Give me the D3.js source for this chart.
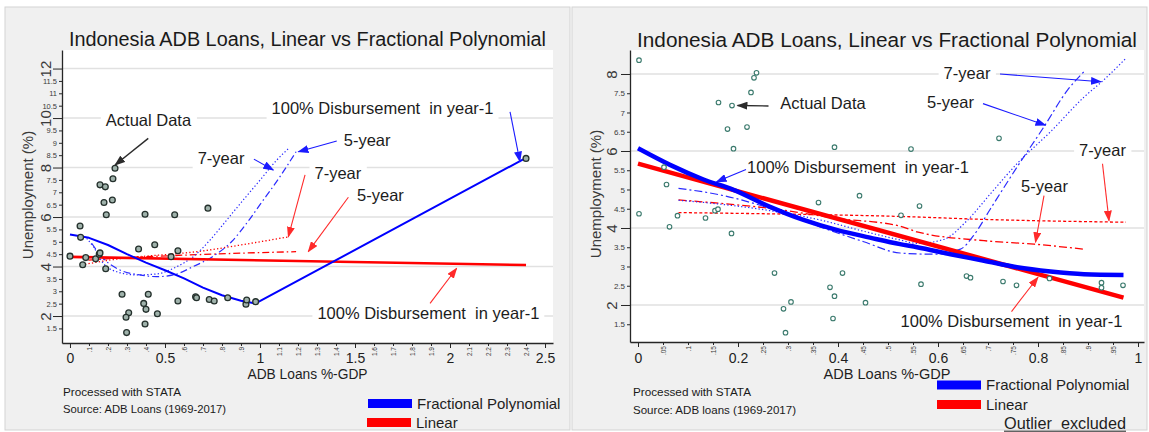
<!DOCTYPE html>
<html>
<head>
<meta charset="utf-8">
<script src="https://cdn.jsdelivr.net/npm/d3@7"></script>
<style>
  body { margin: 0; background: #fff; }
  svg { display: block; font-family: "Liberation Sans", Arial, sans-serif; }
</style>
</head>
<body>
<svg id="chart" width="1149" height="432"></svg>
<script>
// ---------- observations: ADB loans (% of GDP) vs unemployment (%) ----------
const leftLoans = [0, 0.053, 0.056, 0.067, 0.083, 0.135, 0.154, 0.158, 0.158, 0.186, 0.179, 0.191, 0.188,
  0.223, 0.226, 0.237, 0.274, 0.309, 0.295, 0.298, 0.361, 0.388, 0.4, 0.395, 0.412, 0.395, 0.446, 0.46,
  0.532, 0.551, 0.568, 0.568, 0.661, 0.666, 0.726, 0.733, 0.759, 0.83, 0.926, 0.93, 0.977, 2.40];
const leftUnemp = [4.42, 5.64, 5.18, 4.07, 4.36, 4.31, 4.5, 4.55, 7.30, 7.22, 6.59, 6.09, 3.91,
  6.69, 7.55, 7.97, 2.88, 2.13, 1.95, 1.33, 4.71, 2.51, 2.27, 6.11, 2.88, 1.68, 4.88, 2.09,
  4.40, 6.09, 4.64, 2.61, 2.78, 2.74, 6.36, 2.67, 2.61, 2.74, 2.48, 2.65, 2.58, 8.37];

const rightLoans = [0.002, 0.002, 0.052, 0.057, 0.063, 0.079, 0.135, 0.154, 0.16, 0.161, 0.188, 0.179, 0.191,
  0.187, 0.218, 0.226, 0.232, 0.237, 0.273, 0.306, 0.291, 0.295, 0.361, 0.384, 0.393, 0.393, 0.409, 0.39,
  0.443, 0.455, 0.526, 0.546, 0.563, 0.566, 0.657, 0.665, 0.722, 0.73, 0.757, 0.823, 0.927, 0.927, 0.97];
const rightUnemp = [8.36, 4.37, 5.58, 5.13, 4.03, 4.32, 4.26, 4.45, 4.49, 7.26, 7.18, 6.57, 6.06,
  3.86, 6.62, 7.52, 7.90, 8.03, 2.83, 2.08, 1.90, 1.28, 4.66, 2.46, 2.23, 6.10, 2.83, 1.65,
  4.84, 2.06, 4.33, 6.05, 4.57, 2.54, 2.75, 2.71, 6.33, 2.61, 2.51, 2.69, 2.58, 2.45, 2.51];

// ---------- fitted values, full sample ----------
const leftFracX  = [0, 0.1, 0.2, 0.3, 0.4, 0.5, 0.6, 0.7, 0.8, 0.9, 0.977, 2.39];
const leftFracY  = [5.29, 5.16, 4.87, 4.5, 4.16, 3.85, 3.52, 3.15, 2.84, 2.62, 2.51, 8.35];
const leftLinX   = [0, 2.4];
const leftLinY   = [4.39, 4.06];
const leftFrac7X = [0.088, 0.123, 0.175, 0.246, 0.351, 0.456, 0.561, 0.649, 0.737, 0.825, 0.912, 1.0, 1.088, 1.155];
const leftFrac7Y = [5.14, 4.80, 4.13, 3.79, 3.66, 3.70, 3.99, 4.40, 5.07, 5.88, 6.69, 7.49, 8.30, 8.80];
const leftFrac5X = [0.114, 0.175, 0.263, 0.368, 0.456, 0.544, 0.649, 0.75, 0.85, 0.93, 1.0, 1.105, 1.19];
const leftFrac5Y = [4.94, 4.33, 3.86, 3.66, 3.59, 3.66, 4.0, 4.4, 5.0, 5.75, 6.5, 7.63, 8.64];
const leftLin7X  = [0.061, 0.175, 0.298, 0.45, 0.579, 0.7, 0.842, 1.0, 1.15];
const leftLin7Y  = [4.06, 4.22, 4.35, 4.45, 4.53, 4.63, 4.8, 5.0, 5.2];
const leftLin5X  = [0.097, 0.3, 0.6, 0.9, 1.19];
const leftLin5Y  = [4.26, 4.36, 4.46, 4.54, 4.6];

// ---------- fitted values, outlier excluded ----------
const rightFracX  = [0, 0.064, 0.131, 0.191, 0.264, 0.331, 0.397, 0.464, 0.524, 0.558, 0.625, 0.692, 0.758, 0.825, 0.892, 0.971];
const rightFracY  = [6.07, 5.64, 5.26, 4.99, 4.55, 4.21, 3.95, 3.75, 3.58, 3.50, 3.32, 3.15, 2.98, 2.87, 2.80, 2.78];
const rightLinX   = [0, 0.971];
const rightLinY   = [5.67, 2.19];
const rightFrac7X = [0.081, 0.164, 0.264, 0.364, 0.45, 0.524, 0.558, 0.611, 0.658, 0.705, 0.758, 0.825, 0.892, 0.932, 0.976];
const rightFrac7Y = [4.72, 4.62, 4.45, 4.21, 3.92, 3.69, 3.6, 3.7, 4.19, 4.89, 5.67, 6.5, 7.4, 7.85, 8.41];
const rightFrac5X = [0.081, 0.164, 0.264, 0.364, 0.45, 0.524, 0.591, 0.645, 0.671, 0.705, 0.758, 0.812, 0.859, 0.892];
const rightFrac5Y = [5.03, 4.86, 4.51, 4.03, 3.65, 3.35, 3.32, 3.45, 3.80, 4.5, 5.58, 6.63, 7.58, 8.06];
const rightLin7X  = [0.081, 0.3, 0.524, 0.7, 0.976];
const rightLin7Y  = [4.40, 4.36, 4.30, 4.22, 4.15];
const rightLin5X  = [0.081, 0.164, 0.264, 0.397, 0.524, 0.558, 0.692, 0.792, 0.892];
const rightLin5Y  = [4.73, 4.64, 4.51, 4.25, 4.05, 3.9, 3.67, 3.58, 3.45];

// ---------- ticks and labels ----------
const leftXMajor = [0, 0.5, 1, 1.5, 2, 2.5];
const leftXMajorLabels = ["0", "0.5", "1", "1.5", "2", "2.5"];
const leftXMinor = [0.1, 0.2, 0.3, 0.4, 0.6, 0.7, 0.8, 0.9, 1.1, 1.2, 1.3, 1.4, 1.6, 1.7, 1.8, 1.9, 2.1, 2.2, 2.3, 2.4];
const leftXMinorLabels = [".1", ".2", ".3", ".4", ".6", ".7", ".8", ".9", "1.1", "1.2", "1.3", "1.4", "1.6", "1.7", "1.8", "1.9", "2.1", "2.2", "2.3", "2.4"];
const leftYMajor = [2, 4, 6, 8, 10, 12];
const leftYMajorLabels = ["2", "4", "6", "8", "10", "12"];
const leftYMinor = [1.5, 2.5, 3, 3.5, 4.5, 5, 5.5, 6.5, 7, 7.5, 8.5, 9, 9.5, 10.5, 11, 11.5];
const leftYMinorLabels = ["1.5", "2.5", "3", "3.5", "4.5", "5", "5.5", "6.5", "7", "7.5", "8.5", "9", "9.5", "10.5", "11", "11.5"];

const rightXMajor = [0, 0.2, 0.4, 0.6, 0.8, 1];
const rightXMajorLabels = ["0", "0.2", "0.4", "0.6", "0.8", "1"];
const rightXMinor = [0.05, 0.1, 0.15, 0.25, 0.3, 0.35, 0.45, 0.5, 0.55, 0.65, 0.7, 0.75, 0.85, 0.9, 0.95];
const rightXMinorLabels = [".05", ".1", ".15", ".25", ".3", ".35", ".45", ".5", ".55", ".65", ".7", ".75", ".85", ".9", ".95"];
const rightYMajor = [2, 4, 6, 8];
const rightYMajorLabels = ["2", "4", "6", "8"];
const rightYMinor = [1.5, 2.5, 3, 3.5, 4.5, 5, 5.5, 6.5, 7, 7.5];
const rightYMinorLabels = ["1.5", "2.5", "3", "3.5", "4.5", "5", "5.5", "6.5", "7", "7.5"];

const titleText = "Indonesia ADB Loans, Linear vs Fractional Polynomial";
const disbText = "100% Disbursement  in year-1";

// ---------- drawing ----------
const BLUE = "#0000ff", RED = "#ff0000";
const svg = d3.select("#chart");
const defs = svg.append("defs");
[["blue", "#1a1aff"], ["red", "#ff2a2a"], ["dark", "#2b2b2b"]].forEach(([id, c]) => {
  defs.append("marker").attr("id", "head-" + id)
    .attr("markerUnits", "userSpaceOnUse").attr("viewBox", "0 0 11 8")
    .attr("markerWidth", 11).attr("markerHeight", 8).attr("refX", 10).attr("refY", 4)
    .attr("orient", "auto")
    .append("path").attr("d", "M0,0 L11,4 L0,8 Z").attr("fill", c);
});
const arrowColor = { blue: "#1a1aff", red: "#ff2a2a", dark: "#2b2b2b" };

const zip = (xs, ys) => xs.map((v, i) => [v, ys[i]]);

function drawPanel(p) {
  const g = svg.append("g");
  g.append("rect").attr("x", p.box[0]).attr("y", p.box[1]).attr("width", p.box[2]).attr("height", p.box[3])
    .attr("fill", "#f0f0f0").attr("stroke", "#d3d3d3");

  const x = d3.scaleLinear().domain(p.xDomain).range([p.plot.l, p.plot.r]);
  const y = d3.scaleLinear().domain(p.yDomain).range([p.plot.b, p.plot.t]);

  g.append("rect").attr("x", p.plot.l).attr("y", p.plot.t)
    .attr("width", p.plot.r - p.plot.l).attr("height", p.plot.b - p.plot.t).attr("fill", "#fff");

  // horizontal grid at major ticks
  g.append("g").selectAll("line").data(p.yMajor).join("line")
    .attr("x1", p.plot.l).attr("x2", p.plot.r)
    .attr("y1", d => y(d)).attr("y2", d => y(d))
    .attr("stroke", "#e1e1e1").attr("stroke-width", 1.6);

  const boxLayer = g.append("g");

  // title
  g.append("text").attr("x", p.title.x).attr("y", p.title.y).attr("text-anchor", "middle")
    .attr("font-size", p.title.size).attr("fill", "#1a1a1a")
    .attr("textLength", p.title.len).attr("lengthAdjust", "spacingAndGlyphs")
    .text(titleText);

  // fitted lines
  p.curves.forEach(c => {
    const line = d3.line().x(d => x(d[0])).y(d => y(d[1]))
      .curve(c.straight ? d3.curveLinear : d3.curveMonotoneX);
    g.append("path").datum(zip(c.xs, c.ys)).attr("d", line)
      .attr("fill", "none").attr("stroke", c.color).attr("stroke-width", c.width)
      .attr("stroke-dasharray", c.dash || null).attr("stroke-linejoin", "round");
  });

  // observations
  g.append("g").selectAll("circle").data(zip(p.loans, p.unemp)).join("circle")
    .attr("cx", d => x(d[0])).attr("cy", d => y(d[1])).attr("r", p.marker.r)
    .attr("fill", p.marker.fill).attr("stroke", p.marker.stroke).attr("stroke-width", p.marker.sw);

  // annotations with arrows
  p.notes.forEach(n => {
    const t = g.append("text").attr("x", x(n.tx)).attr("y", y(n.ty)).attr("dy", "0.36em")
      .attr("text-anchor", "middle").attr("font-size", p.noteSize).attr("fill", "#1c1c1c")
      .style("white-space", "pre").text(n.text);
    const bb = t.node().getBBox();
    boxLayer.append("rect").attr("x", bb.x - 5).attr("y", bb.y - 1)
      .attr("width", bb.width + 10).attr("height", bb.height + 3).attr("fill", "#fff");
    g.append("line")
      .attr("x1", x(n.from[0])).attr("y1", y(n.from[1]))
      .attr("x2", x(n.to[0])).attr("y2", y(n.to[1]))
      .attr("stroke", arrowColor[n.arrow]).attr("stroke-width", n.arrow === "dark" ? 1.4 : 1.1)
      .attr("marker-end", `url(#head-${n.arrow})`);
  });

  const axisColor = "#262626";
  // y axis: major ticks with rotated labels
  const yMaj = g.append("g").attr("transform", `translate(${p.plot.l},0)`)
    .call(d3.axisLeft(y).tickValues(p.yMajor).tickSize(9).tickSizeOuter(0)
      .tickFormat((d, i) => p.yMajorLabels[i]));
  yMaj.select(".domain").attr("stroke", axisColor).attr("stroke-width", 1.3);
  yMaj.selectAll(".tick line").attr("stroke", axisColor);
  yMaj.selectAll(".tick text").attr("transform", "rotate(-90)").attr("x", 0).attr("y", -p.yMajorOffset)
    .attr("dy", 0).attr("text-anchor", "middle").attr("font-size", 15).attr("fill", "#3a3a3a")
    .attr("font-family", "Liberation Sans, Arial, sans-serif");

  // y axis: minor ticks
  const yMin = g.append("g").attr("transform", `translate(${p.plot.l},0)`)
    .call(d3.axisLeft(y).tickValues(p.yMinor).tickSize(3).tickPadding(2)
      .tickFormat((d, i) => p.yMinorLabels[i]));
  yMin.select(".domain").remove();
  yMin.selectAll(".tick line").attr("stroke", axisColor);
  yMin.selectAll(".tick text").attr("font-size", p.yMinorSize).attr("fill", "#3a3a3a")
    .attr("font-family", "Liberation Sans, Arial, sans-serif");

  // x axis: major ticks
  const xMaj = g.append("g").attr("transform", `translate(0,${p.plot.b})`)
    .call(d3.axisBottom(x).tickValues(p.xMajor).tickSize(5).tickSizeOuter(0)
      .tickFormat((d, i) => p.xMajorLabels[i]));
  xMaj.select(".domain").attr("stroke", axisColor).attr("stroke-width", 1.3);
  xMaj.selectAll(".tick line").attr("stroke", axisColor);
  xMaj.selectAll(".tick text").attr("y", p.xMajorBase).attr("dy", 0).attr("font-size", 14)
    .attr("fill", "#1e1e1e").attr("font-family", "Liberation Sans, Arial, sans-serif");

  // x axis: minor ticks with vertical labels
  const xMin = g.append("g").attr("transform", `translate(0,${p.plot.b})`)
    .call(d3.axisBottom(x).tickValues(p.xMinor).tickSize(3)
      .tickFormat((d, i) => p.xMinorLabels[i]));
  xMin.select(".domain").remove();
  xMin.selectAll(".tick line").attr("stroke", axisColor);
  xMin.selectAll(".tick text").attr("transform", "rotate(-90)").attr("x", -4).attr("y", 2.4)
    .attr("dy", 0).attr("text-anchor", "end").attr("font-size", 6.5).attr("fill", "#3a3a3a")
    .attr("font-family", "Liberation Sans, Arial, sans-serif");

  // axis titles
  g.append("text").attr("x", (p.plot.l + p.plot.r) / 2).attr("y", 379).attr("text-anchor", "middle")
    .attr("font-size", 14).attr("fill", "#1e1e1e")
    .attr("textLength", p.xTitleLen).attr("lengthAdjust", "spacingAndGlyphs").text("ADB Loans %-GDP");
  g.append("text").attr("transform", `translate(${p.yTitle[0]},${p.yTitle[1]}) rotate(-90)`)
    .attr("text-anchor", "middle").attr("font-size", 15).attr("fill", "#3a3a3a")
    .text("Unemployment (%)");

  // notes under the plot
  g.append("text").attr("x", p.notesX).attr("y", p.noteY[0]).attr("font-size", 11.5).attr("fill", "#1a1a1a")
    .attr("textLength", 118).attr("lengthAdjust", "spacingAndGlyphs").text("Processed with STATA");
  g.append("text").attr("x", p.notesX).attr("y", p.noteY[1]).attr("font-size", 11.5).attr("fill", "#1a1a1a")
    .attr("textLength", 163).attr("lengthAdjust", "spacingAndGlyphs").text(p.source);

  // legend
  p.legend.forEach(l => {
    g.append("rect").attr("x", l.x).attr("y", l.y).attr("width", 44).attr("height", 9).attr("fill", l.color);
    g.append("text").attr("x", l.x + 49).attr("y", l.y + 9.5).attr("font-size", 15).attr("fill", "#1e1e1e").text(l.label);
  });
}

drawPanel({
  box: [5, 7, 565, 423],
  plot: { l: 62, r: 553, t: 50, b: 343 },
  xDomain: [-0.042, 2.542], yDomain: [0.91, 12.75],
  title: { x: 307.5, y: 46, size: 20, len: 477 },
  loans: leftLoans, unemp: leftUnemp,
  marker: { r: 2.9, fill: "#9fb2ab", stroke: "#24302c", sw: 1.3 },
  curves: [
    { xs: leftLin7X, ys: leftLin7Y, color: RED, width: 1.3, dash: "1.3,2.2" },
    { xs: leftLin5X, ys: leftLin5Y, color: RED, width: 1.3, dash: "7,3,1.5,3" },
    { xs: leftFrac7X, ys: leftFrac7Y, color: "#2a2aff", width: 1.2, dash: "1.3,2.2" },
    { xs: leftFrac5X, ys: leftFrac5Y, color: "#2a2aff", width: 1.2, dash: "7,3,1.5,3" },
    { xs: leftLinX, ys: leftLinY, color: RED, width: 2.6, straight: true },
    { xs: leftFracX, ys: leftFracY, color: BLUE, width: 2, straight: true }
  ],
  noteSize: 16.5,
  notes: [
    { text: "Actual Data", tx: 0.413, ty: 9.92, from: [0.412, 9.18], to: [0.237, 8.10], arrow: "dark" },
    { text: disbText, tx: 1.645, ty: 10.40, from: [2.316, 10.25], to: [2.368, 8.24], arrow: "blue" },
    { text: "5-year", tx: 1.564, ty: 9.11, from: [1.404, 9.07], to: [1.202, 8.64], arrow: "blue" },
    { text: "7-year", tx: 0.795, ty: 8.37, from: [0.968, 8.34], to: [1.07, 7.90], arrow: "blue" },
    { text: "7-year", tx: 1.41, ty: 7.79, from: [1.237, 7.70], to: [1.149, 5.20], arrow: "red" },
    { text: "5-year", tx: 1.634, ty: 6.89, from: [1.465, 6.80], to: [1.254, 4.60], arrow: "red" },
    { text: disbText, tx: 1.886, ty: 2.11, from: [1.895, 2.51], to: [2.035, 3.93], arrow: "red" }
  ],
  yMajor: leftYMajor, yMajorLabels: leftYMajorLabels, yMajorOffset: 11,
  yMinor: leftYMinor, yMinorLabels: leftYMinorLabels, yMinorSize: 7.5,
  xMajor: leftXMajor, xMajorLabels: leftXMajorLabels, xMajorBase: 20,
  xMinor: leftXMinor, xMinorLabels: leftXMinorLabels,
  xTitleLen: 120, yTitle: [33, 195],
  notesX: 63, noteY: [395.5, 412.5], source: "Source: ADB Loans (1969-2017)",
  legend: [
    { x: 368, y: 399, color: BLUE, label: "Fractional Polynomial" },
    { x: 367, y: 418, color: RED, label: "Linear" }
  ]
});

drawPanel({
  box: [572, 7, 575, 423],
  plot: { l: 630, r: 1144, t: 50, b: 342 },
  xDomain: [-0.016, 1.012], yDomain: [1.039, 8.623],
  title: { x: 887, y: 47, size: 20.5, len: 500 },
  loans: rightLoans, unemp: rightUnemp,
  marker: { r: 2.3, fill: "#ffffff", stroke: "#3b7a6d", sw: 1.1 },
  curves: [
    { xs: rightLin7X, ys: rightLin7Y, color: RED, width: 1.3, dash: "3,2.2" },
    { xs: rightLin5X, ys: rightLin5Y, color: RED, width: 1.3, dash: "8,3,2,3" },
    { xs: rightFrac7X, ys: rightFrac7Y, color: "#2a2aff", width: 1.2, dash: "1.3,2.2" },
    { xs: rightFrac5X, ys: rightFrac5Y, color: "#2a2aff", width: 1.2, dash: "8,3,2,3" },
    { xs: rightLinX, ys: rightLinY, color: RED, width: 4.5, straight: true },
    { xs: rightFracX, ys: rightFracY, color: BLUE, width: 4.5 }
  ],
  noteSize: 16.5,
  notes: [
    { text: "Actual Data", tx: 0.37, ty: 7.25, from: [0.261, 7.17], to: [0.199, 7.18], arrow: "dark" },
    { text: disbText, tx: 0.44, ty: 5.57, from: [0.216, 5.52], to: [0.157, 5.20], arrow: "blue" },
    { text: "7-year", tx: 0.658, ty: 8.02, from: [0.724, 8.0], to: [0.926, 7.80], arrow: "blue" },
    { text: "5-year", tx: 0.625, ty: 7.26, from: [0.69, 7.23], to: [0.815, 6.67], arrow: "blue" },
    { text: "7-year", tx: 0.929, ty: 6.02, from: [0.929, 5.67], to: [0.942, 4.19], arrow: "red" },
    { text: "5-year", tx: 0.813, ty: 5.10, from: [0.812, 4.84], to: [0.795, 3.63], arrow: "red" },
    { text: disbText, tx: 0.747, ty: 1.59, from: [0.747, 1.83], to: [0.80, 2.72], arrow: "red" }
  ],
  yMajor: rightYMajor, yMajorLabels: rightYMajorLabels, yMajorOffset: 13,
  yMinor: rightYMinor, yMinorLabels: rightYMinorLabels, yMinorSize: 8,
  xMajor: rightXMajor, xMajorLabels: rightXMajorLabels, xMajorBase: 21,
  xMinor: rightXMinor, xMinorLabels: rightXMinorLabels,
  xTitleLen: 127, yTitle: [601, 194],
  notesX: 633, noteY: [396, 414], source: "Source: ADB loans (1969-2017)",
  legend: [
    { x: 937, y: 380.5, color: BLUE, label: "Fractional Polynomial" },
    { x: 937, y: 400, color: RED, label: "Linear" }
  ]
});

// note beneath the second legend
svg.append("text").attr("x", 1004).attr("y", 429).attr("font-size", 16).attr("fill", "#1e1e1e")
  .attr("textLength", 122).attr("lengthAdjust", "spacingAndGlyphs").style("white-space", "pre")
  .text("Outlier  excluded");
svg.append("line").attr("x1", 1004).attr("x2", 1126).attr("y1", 431.2).attr("y2", 431.2)
  .attr("stroke", "#1e1e1e").attr("stroke-width", 1);
</script>
</body>
</html>
